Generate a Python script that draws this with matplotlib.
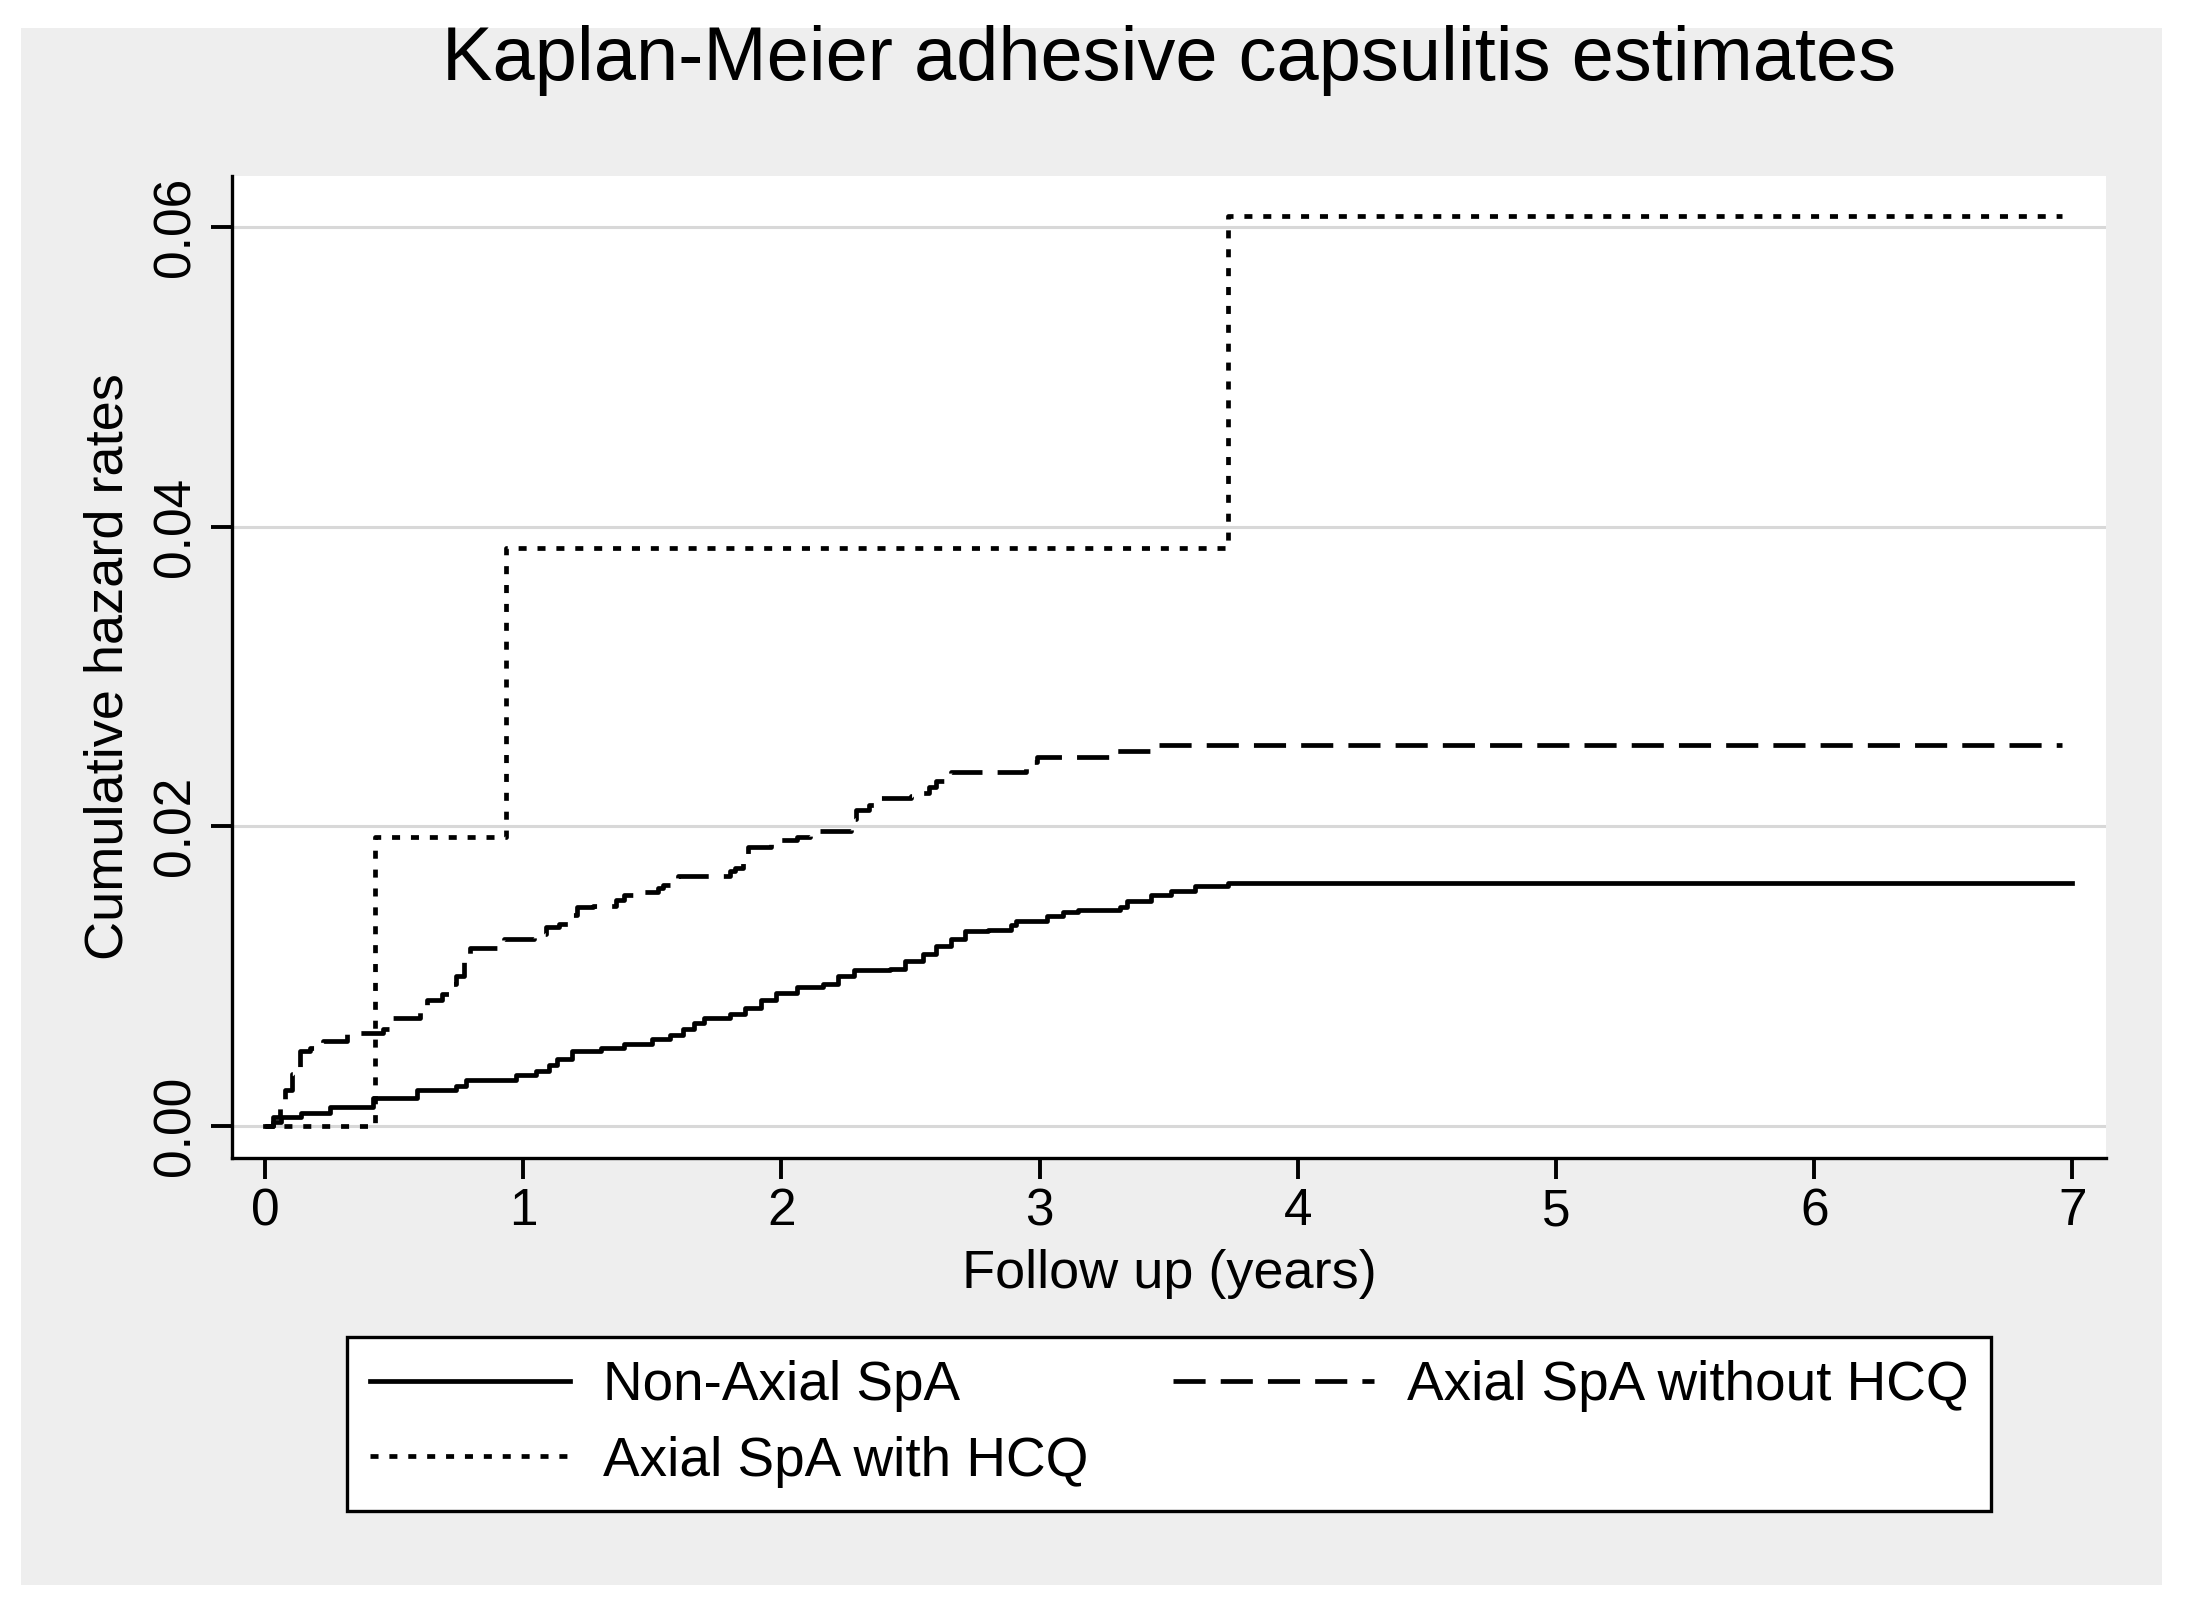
import matplotlib
matplotlib.use("Agg")
import matplotlib.pyplot as plt
from matplotlib.patches import Rectangle
from matplotlib.lines import Line2D

plt.rcParams['font.family'] = ['Liberation Sans', 'DejaVu Sans']

# Non-Axial SpA (solid)
t_non = [0, 0.03, 0.06, 0.14, 0.25, 0.42, 0.59, 0.74, 0.78, 0.97, 1.05, 1.10, 1.13,
         1.19, 1.30, 1.39, 1.50, 1.57, 1.62, 1.66, 1.70, 1.80, 1.86, 1.92, 1.98,
         2.06, 2.16, 2.22, 2.28, 2.42, 2.48, 2.55, 2.60, 2.655, 2.71, 2.80, 2.89,
         2.91, 3.03, 3.09, 3.15, 3.31, 3.34, 3.43, 3.51, 3.60, 3.73, 7.0]
v_non = [0, 0.0003, 0.0006, 0.0009, 0.0013, 0.0019, 0.0024, 0.0027, 0.0031, 0.0034,
         0.0037, 0.0041, 0.0045, 0.0050, 0.0052, 0.0055, 0.0058, 0.0061, 0.0065,
         0.0069, 0.0072, 0.0075, 0.0079, 0.0084, 0.0089, 0.0093, 0.0095, 0.0100,
         0.0104, 0.0105, 0.0110, 0.0115, 0.0120, 0.0125, 0.0130, 0.0131, 0.0134,
         0.0137, 0.0140, 0.0143, 0.0144, 0.0146, 0.0150, 0.0154, 0.0157, 0.0160,
         0.0162, 0.0162]

# Axial SpA without HCQ (dashed)
t_wo = [0, 0.03, 0.058, 0.078, 0.103, 0.136, 0.174, 0.225, 0.317, 0.458, 0.497,
        0.60, 0.627, 0.685, 0.72, 0.74, 0.77, 0.795, 0.90, 0.925, 1.04, 1.09, 1.14,
        1.18, 1.21, 1.27, 1.36, 1.39, 1.45, 1.52, 1.54, 1.58, 1.60, 1.80, 1.82,
        1.85, 1.87, 1.96, 2.00, 2.06, 2.11, 2.27, 2.29, 2.34, 2.38, 2.50, 2.53,
        2.57, 2.60, 2.63, 2.655, 2.946, 2.99, 3.29, 3.43, 6.96]
v_wo = [0, 0.0006, 0.0013, 0.0024, 0.0035, 0.0050, 0.0052, 0.0057, 0.0062, 0.0065,
        0.0072, 0.0079, 0.0084, 0.0088, 0.0095, 0.0100, 0.0110, 0.0119, 0.0122,
        0.0125, 0.0128, 0.0133, 0.0135, 0.0141, 0.0146, 0.0147, 0.0151, 0.0154,
        0.0156, 0.0159, 0.0161, 0.0164, 0.0167, 0.0170, 0.0172, 0.0180, 0.0186,
        0.0189, 0.0191, 0.0193, 0.0197, 0.0205, 0.0211, 0.0214, 0.0219, 0.0220,
        0.0222, 0.0226, 0.0230, 0.0234, 0.0236, 0.0243, 0.0246, 0.0250, 0.0254,
        0.0254]

# Axial SpA with HCQ (dotted)
t_hcq = [0, 0.426, 0.934, 3.73, 6.96]
v_hcq = [0, 0.0193, 0.0386, 0.0607, 0.0607]

labels = ["Non-Axial SpA", "Axial SpA with HCQ", "Axial SpA without HCQ"]
x_ticks = [0, 1, 2, 3, 4, 5, 6, 7]
y_ticks = [0.00, 0.02, 0.04, 0.06]
y_ticklabels = ["0.00", "0.02", "0.04", "0.06"]

W, H = 2188, 1616
fig = plt.figure(figsize=(W / 100, H / 100), dpi=100, facecolor='white')
fig.patches.append(Rectangle((21 / W, 1 - 1585 / H), (2162 - 21) / W, (1585 - 28) / H,
                             transform=fig.transFigure, facecolor='#eeeeee',
                             edgecolor='none', zorder=-10))

ax = fig.add_axes([232 / W, 1 - 1158 / H, (2106 - 232) / W, (1158 - 176) / H])
ax.set_facecolor('white')

lw = 3.4
st_solid = dict(color='black', lw=lw, linestyle='-')
st_dash = dict(color='black', lw=lw, linestyle=(0, (6.8, 3.2)))
st_dot = dict(color='black', lw=lw, linestyle=(0, (1.7, 2.3)))

ax.step(t_non, v_non, where='post', zorder=3, **st_solid)
ax.step(t_wo, v_wo, where='post', zorder=3, **st_dash)
ax.step(t_hcq, v_hcq, where='post', zorder=3, **st_dot)

ax.set_xlim(-0.128, 7.13)
ax.set_ylim(-0.00213, 0.0634)
ax.set_xticks(x_ticks)
ax.set_yticks(y_ticks)
ax.set_yticklabels(y_ticklabels)
ax.grid(axis='y', color='#d8d8d8', lw=2.2, zorder=0)
ax.set_axisbelow(True)

for s in ['top', 'right']:
    ax.spines[s].set_visible(False)
for s in ['left', 'bottom']:
    ax.spines[s].set_linewidth(2.4)

ax.tick_params(axis='both', direction='out', length=15, width=2.8, labelsize=37)
ax.tick_params(axis='x', pad=6)
ax.tick_params(axis='y', pad=8)
for lab in ax.get_yticklabels():
    lab.set_rotation(90)
    lab.set_va('center')

ax.set_xlabel("Follow up (years)", fontsize=39, va='center')
ax.xaxis.set_label_coords(0.5, (1158 - 1274) / (1158 - 176))
ax.set_ylabel("Cumulative hazard rates", fontsize=39, va='center')
ax.yaxis.set_label_coords((109 - 232) / (2106 - 232), 0.5)

ax.text(0.5, (1158 - 61) / (1158 - 176), "Kaplan-Meier adhesive capsulitis estimates",
        transform=ax.transAxes, ha='center', va='center', fontsize=54.5)

handles = [Line2D([], [], **st_solid), Line2D([], [], **st_dot), Line2D([], [], **st_dash)]
leg = fig.legend(handles, labels, ncol=2, loc='center',
                 bbox_to_anchor=(1169 / W, 1 - 1424 / H), fontsize=39.5,
                 frameon=True, fancybox=False, framealpha=1, handlelength=3.65,
                 handletextpad=0.6, columnspacing=1.55, labelspacing=0.42, borderpad=0.42)
leg.get_frame().set_edgecolor('black')
leg.get_frame().set_linewidth(2.4)
leg.get_frame().set_facecolor('white')

fig.savefig("out.png", dpi=100, facecolor='white')
